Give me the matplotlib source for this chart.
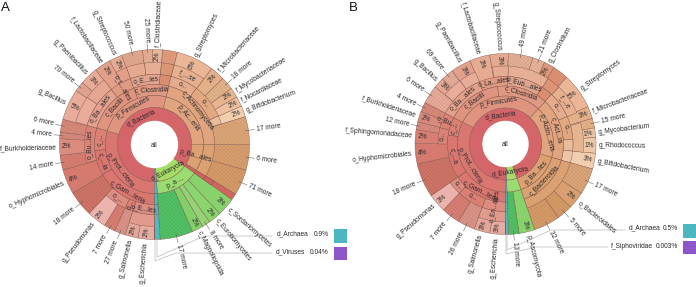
import matplotlib
matplotlib.use('Agg')
import matplotlib.pyplot as plt
import numpy as np
from matplotlib.colors import to_rgb
from matplotlib.patches import Wedge, Rectangle

plt.rcParams['font.family'] = ['Liberation Sans', 'DejaVu Sans']
plt.rcParams['hatch.linewidth'] = 0.15

# ---- panel A, shares in % of the circle, clockwise from south ----
a_d_names = ['d_Bacteria', 'd_Eukaryota', '']
a_d_share = [85.0, 14.2, 0.8]
a_p_names = ['p_Prot...cteria', 'p_Firmicutes', 'p_Ac...eria', 'p_Ba...ales', '', 'p_a ...', '']
a_p_share = [29.4, 24.4, 21.1, 8.9, 1.1, 14.2, 0.9]
a_c_names = ['c_Gam...teria', 'c_...ia', 'c_...', 'c_Bacilli', 'c_Clostridia', 'c_Actinomycetia', '', '', '', '']
a_c_share = [16.7, 6.7, 6.1, 15.0, 9.4, 21.1, 8.9, 1.1, 14.2, 0.9]
a_o_names = ['o_E...les', 'o...', 'o_...', '', '', 'o_Bu...les', 'o_Ba...ales', 'o_L...ales', 'o_E...les', '',
             'o...', 'o...', '', '', '', '', '', '']
a_o_share = [5.0, 1.9, 5.3, 4.4, 4.2, 8.6, 10.0, 5.0, 6.9, 2.5, 6.4, 8.1, 1.9, 4.7, 8.9, 1.1, 14.2, 0.9]
a_f_names = ['', '', '', '', '', '', '', '', '', 'f_...se', '']
a_f_share = [5.0, 24.4, 5.3, 4.7, 2.8, 2.2, 3.6, 3.3, 2.5, 6.4, 39.7]
a_g_names = ['g_Escherichia', 'g_Salmonella', '27 more', '7 more', 'g_Pseudomonas', '18 more', 'o_Hyphomicrobiales',
             '14 more', 'f_Burkholderiaceae', '4 more', '6 more', 'g_Bacillus', '70 more', 'g_Paenibacillus',
             'f_Lactobacillaceae', 'g_Streptococcus', '50 more', '25 more', 'f_Clostridiaceae', '',
             'g_Streptomyces', 'f_Microbacteriaceae', '18 more', 'f_Mycobacteriaceae', 'f_Nocardiaceae',
             'g_Bifidobacterium', '17 more', '6 more', '71 more', '', 'c_Sordariomycetes', 'c_Eurotiomycetes',
             '8 more', 'c_Magnoliopsida', '17 more', '', '']
a_g_share = [2.8, 2.2, 1.9, 1.9, 3.3, 4.4, 4.2, 2.5, 2.8, 1.1, 2.2, 5.3, 1.7, 3.1, 2.8, 2.2, 3.6, 1.7, 1.7, 2.5,
             6.4, 2.5, 2.2, 1.7, 1.7, 1.9, 4.7, 4.4, 4.4, 1.1, 3.1, 2.2, 1.4, 1.9, 5.6, 0.9, 0.04]
a_g_pct = ['2%', '2%', '', '', '2%', '', '4%', '', '2%', '', '', '5%', '', '3%', '2%', '2%', '', '', '2%', '',
           '6%', '2%', '', '2%', '2%', '2%', '', '', '', '', '3%', '2%', '', '2%', '', '', '']
a_side_names = ['d_Archaea', 'd_Viruses']
a_side_pct = ['0.9%', '0.04%']

# ---- panel B ----
b_d_names = ['d_Bacteria', 'd_Eukaryota', '']
b_d_share = [95.0, 4.5, 0.5]
b_p_names = ['p_Prot...cteria', 'p_Firmicutes', 'p_Actin...eria', 'p_Ba...tes', '', '']
b_p_share = [32.5, 29.4, 17.5, 15.3, 4.7, 0.5]
b_c_names = ['c_Gam...teria', 'c_...a', 'c_...', 'c_Bacilli', 'c_Clostridia', 'c_Act...ia', 'c_Bacteroidia', '', '']
b_c_share = [15.3, 12.2, 5.0, 15.3, 14.2, 17.5, 15.3, 4.7, 0.5]
b_o_names = ['o_En...ales', 'o...', 'o...', '', '', 'o...', 'o_Bu...', 'o_Ba...ales', 'o_La...ales',
             'o_Eub...ales', '', 'o...', 'o...', '', '', '', '', '']
b_o_share = [5.6, 6.4, 3.3, 6.1, 3.6, 3.9, 3.6, 11.1, 6.9, 8.6, 2.8, 6.4, 5.6, 2.8, 2.8, 15.3, 4.7, 0.5]
b_f_names = ['', '', '', '', '', '', '', '', 'f_...e', '', '', '']
b_f_share = [5.6, 30.3, 4.2, 3.6, 3.6, 3.3, 8.6, 2.8, 6.4, 2.2, 6.1, 23.3]
b_g_names = ['g_Escherichia', 'g_Salmonella', '26 more', '7 more', 'g_Pseudomonas', '18 more', 'o_Hyphomicrobiales',
             'f_Sphingomonadaceae', '12 more', 'f_Burkholderiaceae', '4 more', '6 more', 'g_Bacillus', '69 more',
             'g_Paenibacillus', 'f_Lactobacillaceae', 'g_Streptococcus', '49 more', '21 more', 'g_Clostridium', '',
             'g_Streptomyces', 'f_Microbacteriaceae', '15 more', 'g_Mycobacterium', 'g_Rhodococcus',
             'g_Bifidobacterium', '17 more', 'o_Bacteroidales', '5 more', '32 more', 'p_Ascomycota', '13 more', '', '']
b_g_share = [2.8, 2.8, 3.1, 3.3, 3.3, 6.1, 3.6, 2.5, 1.4, 1.9, 1.7, 3.3, 1.9, 2.2, 3.6, 3.6, 3.3, 4.4, 2.2, 1.9, 2.8,
             6.4, 2.2, 1.7, 1.7, 2.8, 2.8, 4.7, 3.1, 2.8, 4.7, 2.8, 1.9, 0.5, 0.003]
b_g_pct = ['3%', '3%', '', '', '3%', '', '4%', '2%', '', '2%', '', '', '3%', '', '3%', '3%', '3%', '', '', '2%', '',
           '5%', '3%', '', '1%', '1%', '3%', '', '2%', '', '', '3%', '', '', '']
b_side_names = ['d_Archaea', 'f_Siphoviridae']
b_side_pct = ['0.5%', '0.003%']

# colours, one per sector
red, pro, fir, act, bac = '#d4666a', '#d97670', '#df9480', '#e0a47e', '#dba172'
eu1, teal, vio = '#a6dd66', '#4fb9c4', '#8c55c9'
a_d_col = [red, eu1, teal]
a_p_col = [pro, fir, act, bac, '#cf625f', '#9bdc70', teal]
a_c_col = [pro, pro, '#db8075', fir, '#e09a84', act, bac, '#cf625f', None, teal]
a_o_col = ['#dd8c80', '#d97f74', '#dd8c80', None, None, '#db8377', '#e3a08c', '#e09a84', '#e2a48e', '#d98e70',
           '#e4ac8c', '#e2a880', '#e8bd9a', None, None, '#cf625f', None, teal]
a_f_col = ['#e19a8e', None, '#e9ab9a', '#e6a792', None, '#e2a08a', '#e4a98f', '#e6ae94', '#db9474', '#e6b08e', None]
a_g_col = ['#e6aca1', '#e4a69b', '#dd9488', '#d97f74', '#ebb3ab', '#d17468', '#d67a6f', '#d97e72', '#dc8c7f', '#da8a7c',
           '#d98a7a', '#e9ab9a', '#e6a792', '#e8ad99', '#e2a08a', '#e6ab93', '#e4a98f', '#e6b096', '#e8b59b', '#dc9878',
           '#eab696', '#e3b08a', '#e5b48b', '#e6b48f', '#edc09f', '#f1cfae', '#dca678', '#d99f6e', '#d79b68', '#d0645f',
           '#88d26c', '#8ad56e', '#9ad97a', '#84d068', '#52c265', teal, vio]

b_d_col = [red, eu1, teal]
b_p_col = [pro, fir, act, bac, '#9bdc70', teal]
b_c_col = [pro, pro, '#db8075', fir, '#e09a84', act, bac, None, teal]
b_o_col = ['#dd8c80', '#d97f74', '#dd8c80', None, None, '#db8377', '#db8377', '#e3a08c', '#e09a84', '#e2a48e', '#d98e70',
           '#e4ac8c', '#e2a880', '#e8bd9a', '#ecc6a6', bac, None, teal]
b_f_col = ['#e19a8e', None, '#e9ab9a', '#e8ad99', None, '#e6ab93', '#e6ae94', '#db9474', '#e6b08e', None, '#e6b48f', None]
b_g_col = ['#e6aca1', '#e4a69b', '#dd9488', '#d97f74', '#ebb3ab', '#d17468', '#d67a6f', '#d97e72', '#dc8c7f', '#da8a7c',
           '#d98a7a', '#e9ab9a', '#e6a792', '#e8ad99', '#e2a08a', '#e6ab93', '#e4a98f', '#e6b096', '#e8b59b', '#dc9878',
           '#d98e70', '#eab696', '#e3b08a', '#e5b48b', '#ecc4a4', '#edc9aa', '#f1cfae', '#dca678', '#d99f6e', '#d79b68',
           '#d79b68', '#88d26c', '#52c265', teal, vio]

H = 287
FS = 4.8
EDGE = '#80564a'
TXT = '#2a2a2a'

fig = plt.figure(figsize=(6.96, 2.87), dpi=100)
ax = fig.add_axes([0, 0, 1, 1])
ax.set_xlim(0, 696)
ax.set_ylim(H, 0)
ax.axis('off')


def upright(rot):
    return (rot + 90) % 180 - 90


def point(cx, cy, r, a):
    t = np.radians(a)
    return cx + r * np.sin(t), cy - r * np.cos(t)


def ring(cx, cy, r0, r1, names, share, cols, start=180.0):
    total = sum(share)
    a = start
    for name, s, col in zip(names, share, cols):
        d = s / total * 360
        if col is not None:
            # y axis runs downwards, so clockwise angles map directly
            ax.add_patch(Wedge((cx, cy), r1, a - 90, a + d - 90, width=r1 - r0, facecolor=col,
                               edgecolor=EDGE, lw=0.3))
            if 'more' in name:
                dark = tuple(c * 0.82 for c in to_rgb(col))
                ax.add_patch(Wedge((cx, cy), r1, a - 90, a + d - 90, width=r1 - r0, facecolor='none',
                                   edgecolor=dark, lw=0, hatch='xxxxxxxxx'))
            if name and r1 < 85:
                m = a + d / 2
                x, y = point(cx, cy, (r0 + r1) / 2, m)
                arc = np.radians(d) * (r0 + r1) / 2
                rot = -m if len(name) * 2.2 < arc or name.startswith('d_') else 90 - m
                ax.text(x, y, name, fontsize=FS, color=TXT, ha='center', va='center',
                        rotation=upright(rot), rotation_mode='anchor')
        a += d


def outer_labels(cx, cy, R, names, share, pct, start=180.0):
    total = sum(share)
    a = start
    for name, s, p in zip(names, share, pct):
        d = s / total * 360
        m = a + d / 2
        a += d
        if p:
            x, y = point(cx, cy, R - 7, m)
            ax.text(x, y, p, fontsize=FS, color=TXT, ha='center', va='center',
                    rotation=upright(90 - m), rotation_mode='anchor', zorder=5)
        if not name:
            continue
        gap = 3
        if 'more' in name:
            gap = 8
            x0, y0 = point(cx, cy, R - 3, m)
            x1, y1 = point(cx, cy, R + 6, m)
            ax.plot([x0, x1], [y0, y1], color='#555555', lw=0.35, zorder=5)
        x, y = point(cx, cy, R + gap, m)
        ax.text(x, y, name, fontsize=FS, color=TXT, ha='left' if m % 360 < 180 else 'right',
                va='center', rotation=upright(90 - m), rotation_mode='anchor')


def panel(cx, cy, radii, rings, outer):
    names, share, pct, cols = outer
    ring(cx, cy, radii[2], radii[6], names, share, cols)
    outer_labels(cx, cy, radii[6], names, share, pct)
    for i, (n, s, c) in enumerate(rings):
        ring(cx, cy, radii[4 - i], radii[5 - i], n, s, c)
    ax.add_patch(plt.Circle((cx, cy), radii[0], color='white', zorder=3))
    ax.text(cx, cy + 1, 'all', fontsize=FS, ha='center', va='center', color=TXT, zorder=4)


panel(154.5, 144.5, [23, 37, 49, 60, 70, 82, 95],
      [(a_f_names, a_f_share, a_f_col), (a_o_names, a_o_share, a_o_col),
       (a_c_names, a_c_share, a_c_col), (a_p_names, a_p_share, a_p_col),
       (a_d_names, a_d_share, a_d_col)],
      (a_g_names, a_g_share, a_g_pct, a_g_col))
panel(505.5, 144, [22.5, 36, 48, 58, 67.5, 78, 90.5],
      [(b_f_names, b_f_share, b_f_col), (b_o_names, b_o_share, b_o_col),
       (b_c_names, b_c_share, b_c_col), (b_p_names, b_p_share, b_p_col),
       (b_d_names, b_d_share, b_d_col)],
      (b_g_names, b_g_share, b_g_pct, b_g_col))

LINE = '#c4c4c4'
# side labels with their leader lines and swatches
ax.plot([157, 157, 204, 272], [240, 257, 236, 236], color=LINE, lw=0.6)
ax.plot([155, 155, 176, 272], [240, 261, 253, 253], color=LINE, lw=0.6)
ax.text(277, 234, a_side_names[0], fontsize=FS, va='center', color=TXT)
ax.text(329, 234, a_side_pct[0], fontsize=FS, va='center', ha='right', color=TXT)
ax.text(276, 252, a_side_names[1], fontsize=FS, va='center', color=TXT)
ax.text(329, 252, a_side_pct[1], fontsize=FS, va='center', ha='right', color=TXT)
ax.add_patch(Rectangle((334, 229), 13, 14, facecolor=teal, edgecolor='#3fa6ae', lw=0, hatch='xxxxxxx'))
ax.add_patch(Rectangle((334, 247), 13, 13, facecolor=vio, edgecolor='none'))

ax.plot([507, 507, 551, 625], [235, 250, 230, 230], color=LINE, lw=0.6)
ax.plot([506, 506, 536, 608], [235, 254, 247, 247], color=LINE, lw=0.6)
ax.text(629, 228, b_side_names[0], fontsize=FS, va='center', color=TXT)
ax.text(678, 228, b_side_pct[0], fontsize=FS, va='center', ha='right', color=TXT)
ax.text(611, 246, b_side_names[1], fontsize=FS, va='center', color=TXT)
ax.text(678, 246, b_side_pct[1], fontsize=FS, va='center', ha='right', color=TXT)
ax.add_patch(Rectangle((683, 224), 13, 14, facecolor=teal, edgecolor='#3fa6ae', lw=0, hatch='xxxxxxx'))
ax.add_patch(Rectangle((683, 241), 13, 13, facecolor=vio, edgecolor='none'))

ax.text(1, 8, 'A', fontsize=9.5, va='center', color='#111111')
ax.text(349, 8, 'B', fontsize=9.5, va='center', color='#111111')

fig.savefig('out.png', dpi=100)
